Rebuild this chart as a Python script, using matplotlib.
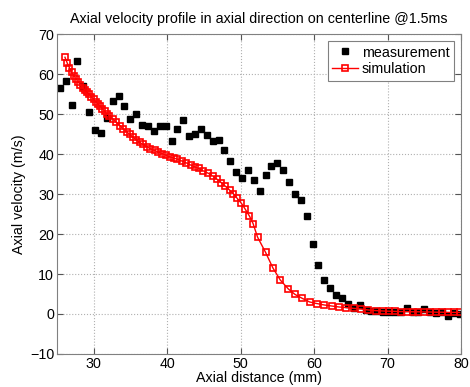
import matplotlib
matplotlib.use("Agg")
import matplotlib.pyplot as plt

plt.rcParams['font.family'] = ['Liberation Sans', 'DejaVu Sans']

meas_x = [25.4, 26.2, 27.0, 27.8, 28.6, 29.4, 30.2, 31.0, 31.8, 32.6,
          33.4, 34.2, 35.0, 35.8, 36.6, 37.4, 38.2, 39.0, 39.8, 40.6,
          41.4, 42.2, 43.0, 43.8, 44.6, 45.4, 46.2, 47.0, 47.8, 48.6,
          49.4, 50.2, 51.0, 51.8, 52.6, 53.4, 54.2, 55.0, 55.8, 56.6,
          57.4, 58.2, 59.0, 59.8, 60.6, 61.4, 62.2, 63.0, 63.8, 64.6,
          65.4, 66.2, 67.0, 67.8, 68.6, 69.4, 70.2, 71.0, 71.8, 72.6,
          73.4, 74.2, 75.0, 75.8, 76.6, 77.4, 78.2, 79.0, 79.8]
meas_y = [56.4, 58.3, 52.2, 63.3, 57.0, 50.5, 46.0, 45.25, 49.0, 53.3,
          54.5, 52.1, 48.7, 49.9, 47.25, 46.9, 45.75, 46.9, 46.9, 43.3,
          46.25, 48.4, 44.4, 45.1, 46.2, 44.7, 43.3, 43.6, 40.9, 38.3,
          35.6, 34.0, 36.1, 33.4, 30.7, 34.8, 37.1, 37.7, 36.1, 32.9,
          30.1, 28.4, 24.4, 17.6, 12.2, 8.6, 6.5, 4.7, 3.9, 2.4,
          1.5, 2.2, 1.0, 0.8, 0.7, 0.6, 0.5, 0.4, 0.5, 1.6,
          0.6, 0.4, 1.3, 0.5, 0.3, 0.4, -0.6, 0.2, 0.0]

sim_x = [26.1, 26.4, 26.7, 27.0, 27.3, 27.6, 27.9, 28.2, 28.5, 28.8,
         29.1, 29.4, 29.7, 30.0, 30.3, 30.6, 30.9, 31.2, 31.5, 31.8,
         32.1, 32.65, 33.1, 33.6, 34.0, 34.5, 34.9, 35.4, 35.8, 36.3,
         36.7, 37.3, 37.7, 38.3, 38.8, 39.3, 39.8, 40.35, 40.9, 41.4,
         42.0, 42.6, 43.2, 43.75, 44.3, 44.9, 45.6, 46.2, 46.8, 47.4,
         47.9, 48.5, 49.0, 49.5, 50.1, 50.6, 51.2, 51.7, 52.3, 53.4,
         54.4, 55.4, 56.5, 57.4, 58.4, 59.4, 60.4, 61.4, 62.4, 63.4,
         64.4, 65.4, 66.4, 67.4, 68.4, 69.4, 70.2, 71.0, 71.8, 72.6,
         73.4, 74.2, 75.0, 75.8, 76.6, 77.4, 78.2, 79.0, 79.8]
sim_y = [64.2, 62.8, 61.6, 60.5, 59.6, 58.8, 58.0, 57.3, 56.6, 56.0,
         55.5, 54.9, 54.3, 53.7, 53.1, 52.5, 51.9, 51.3, 50.7, 50.1,
         49.6, 48.75, 47.9, 47.1, 46.25, 45.6, 44.9, 44.2, 43.5, 42.9,
         42.4, 41.8, 41.3, 40.9, 40.5, 40.1, 39.75, 39.3, 39.0, 38.7,
         38.25, 37.8, 37.25, 36.8, 36.4, 35.8, 35.2, 34.5, 33.7, 32.8,
         32.0, 31.0, 30.1, 29.0, 27.7, 26.3, 24.5, 22.6, 19.25, 15.4,
         11.5, 8.5, 6.25, 4.9, 3.9, 3.0, 2.6, 2.25, 2.0, 1.75,
         1.6, 1.4, 1.25, 1.0, 0.85, 0.75, 0.7, 0.65, 0.6, 0.6,
         0.55, 0.55, 0.5, 0.5, 0.45, 0.45, 0.4, 0.4, 0.4]

x_ticks = [30, 40, 50, 60, 70, 80]
y_ticks = [-10, 0, 10, 20, 30, 40, 50, 60, 70]

fig = plt.figure(figsize=(4.7, 3.87), dpi=100)
ax = fig.add_axes([0.121, 0.0853, 0.860, 0.8267])

ax.plot(meas_x, meas_y, linestyle='none', marker='s', color='black',
        markersize=4.3, label='measurement')
ax.plot(sim_x, sim_y, color='red', linewidth=1.0, marker='s',
        markersize=4.5, markerfacecolor='none', markeredgecolor='red',
        markeredgewidth=1.2, label='simulation')

ax.set_xlim(25, 80)
ax.set_ylim(-10, 70)
ax.set_xticks(x_ticks)
ax.set_yticks(y_ticks)
ax.grid(True, linestyle=':', color='#b0b0b0', linewidth=0.8)
ax.set_axisbelow(True)
ax.tick_params(direction='in', top=True, right=True, labelsize=10.3,
               length=4, color='#555555', pad=2)
for s in ax.spines.values():
    s.set_color('#808080')
    s.set_linewidth(0.8)

ax.set_title('Axial velocity profile in axial direction on centerline @1.5ms',
             fontsize=10.3, pad=8)
ax.set_xlabel('Axial distance (mm)', fontsize=10.3, labelpad=0)
ax.set_ylabel('Axial velocity (m/s)', fontsize=10.3, labelpad=3)

leg = ax.legend(loc='upper right', fontsize=10.3, fancybox=False,
                framealpha=1, edgecolor='#808080', borderaxespad=0.5,
                handlelength=1.8, handletextpad=0.3, borderpad=0.3,
                labelspacing=0.2)
leg.get_frame().set_linewidth(0.8)

fig.savefig('out.png', dpi=100)
